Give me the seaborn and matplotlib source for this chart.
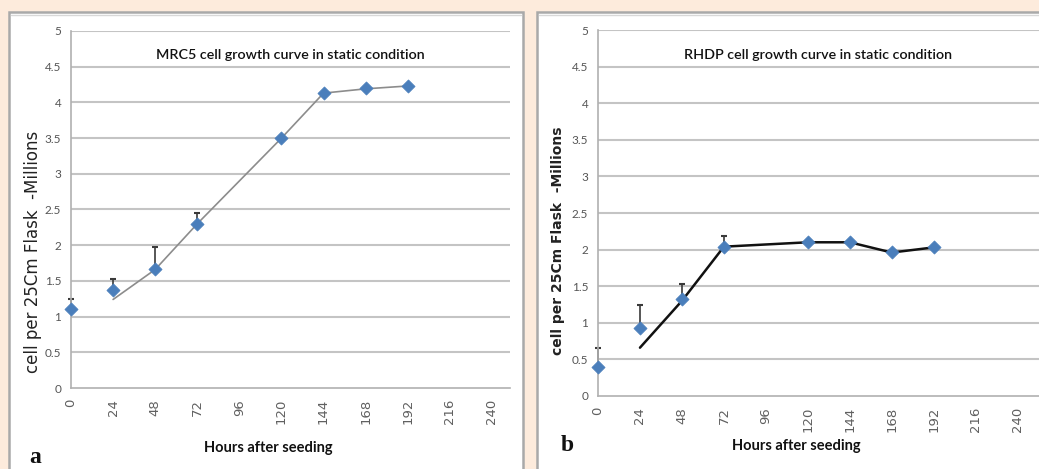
import matplotlib

matplotlib.use("Agg")
import matplotlib.pyplot as plt
import seaborn as sns
import pandas as pd
import numpy as np
from matplotlib.patches import Rectangle

# data
hours = [0, 24, 48, 72, 120, 144, 168, 192]
mrc5_mean = [1.10, 1.37, 1.67, 2.30, 3.50, 4.13, 4.20, 4.23]
mrc5_upper = [1.25, 1.53, 1.97, 2.45, 3.50, 4.13, 4.20, 4.23]
mrc5_line_x = [24, 36, 48, 72, 120, 144, 168, 192]
mrc5_line_y = [1.24, 1.45, 1.66, 2.30, 3.50, 4.13, 4.19, 4.23]

rhdp_mean = [0.40, 0.93, 1.33, 2.03, 2.10, 2.10, 1.97, 2.03]
rhdp_upper = [0.66, 1.24, 1.53, 2.19, 2.10, 2.10, 1.97, 2.03]
rhdp_line_x = [24, 48, 72, 120, 144, 168, 192]
rhdp_line_y = [0.66, 1.30, 2.04, 2.10, 2.10, 1.96, 2.03]

xticks = list(range(0, 241, 24))
yticks = [0, 0.5, 1, 1.5, 2, 2.5, 3, 3.5, 4, 4.5, 5]
ytick_labels = ["0", "0.5", "1", "1.5", "2", "2.5", "3", "3.5", "4", "4.5", "5"]

sns.set_style("white")
plt.rcParams["font.family"] = ["Lato", "DejaVu Sans"]

W, H = 1039, 469
fig = plt.figure(figsize=(W / 100, H / 100), dpi=100)
fig.patch.set_facecolor("#fdebdc")

# background axes holding the white chart panels with grey borders
bg = fig.add_axes([0, 0, 1, 1], zorder=-5)
bg.set_xlim(0, W)
bg.set_ylim(H, 0)
bg.axis("off")
for x0, x1 in [(9, 523), (537, 1045)]:
    bg.add_patch(Rectangle((x0, 12), x1 - x0, H, facecolor="white",
                           edgecolor="#a9a9a9", linewidth=1.8))
    bg.plot([x0 + 2, x1 - 2], [15, 15], color="#d8d8d8", lw=1)

panels = [
    dict(rect=[71 / W, 1 - 388 / H, (510 - 71) / W, (388 - 31) / H], xmax=250.3,
         mean=mrc5_mean, upper=mrc5_upper, lx=mrc5_line_x, ly=mrc5_line_y,
         lcolor="#8c8c8c", lw=1.2, title="MRC5 cell growth curve in static condition",
         tx=125, ylab_weight="normal", ylab_size=12, ylab_xy=(33, 252), letter="a",
         letter_xy=(35, 457), xlab_xy=(268, 448)),
    dict(rect=[598 / W, 1 - 396 / H, (1039 - 598) / W, (396 - 30) / H], xmax=252.2,
         mean=rhdp_mean, upper=rhdp_upper, lx=rhdp_line_x, ly=rhdp_line_y,
         lcolor="#111111", lw=1.8, title="RHDP cell growth curve in static condition",
         tx=126, ylab_weight="bold", ylab_size=10, ylab_xy=(558, 241), letter="b",
         letter_xy=(567, 445), xlab_xy=(796, 446)),
]

for p in panels:
    ax = fig.add_axes(p["rect"], zorder=2)
    ax.set_facecolor("none")
    df = pd.DataFrame({"hours": hours, "mean": p["mean"], "upper": p["upper"]})
    line_df = pd.DataFrame({"hours": p["lx"], "value": p["ly"]})

    for y in yticks[1:]:
        ax.axhline(y, color="#c4c4c4", lw=1.5, zorder=0)

    err = np.array(p["upper"]) - np.array(p["mean"])
    mask = err > 0
    eb = ax.errorbar(df["hours"][mask], df["mean"][mask],
                     yerr=[np.zeros(mask.sum()), err[mask]], fmt="none",
                     ecolor="#3a3a3a", elinewidth=1.2, capsize=2.5, capthick=1.5,
                     zorder=2)
    for art in eb.lines[1] + eb.lines[2]:
        art.set_clip_on(False)

    sns.lineplot(data=line_df, x="hours", y="value", ax=ax, color=p["lcolor"],
                 lw=p["lw"], zorder=3)
    sns.scatterplot(data=df, x="hours", y="mean", ax=ax, marker="D", s=45,
                    color="#4a7ebb", edgecolor="#4a7ebb", linewidth=0.5, zorder=4,
                    clip_on=False)

    ax.set_xlim(0, p["xmax"])
    ax.set_ylim(0, 5)
    ax.set_xticks(xticks)
    ax.set_xticklabels([str(t) for t in xticks], rotation=90, fontsize=9.5,
                       color="#606060", family="DejaVu Sans")
    ax.set_yticks(yticks)
    ax.set_yticklabels(ytick_labels, fontsize=8.5, color="#555555")
    ax.tick_params(axis="both", direction="out", length=4, width=1,
                   color="#b0b0b0", pad=3)
    ax.tick_params(axis="x", pad=4)
    for side in ["top", "right"]:
        ax.spines[side].set_visible(False)
    for side in ["left", "bottom"]:
        ax.spines[side].set_color("#b0b0b0")
        ax.spines[side].set_linewidth(1.2)
    ax.set_xlabel("")
    ax.set_ylabel("")

    ax.text(p["tx"], 4.66, p["title"], ha="center", va="center", fontsize=10.3,
            fontweight="semibold", color="#111111")

    fig.text(p["ylab_xy"][0] / W, 1 - p["ylab_xy"][1] / H,
             "cell per 25Cm Flask  -Millions", rotation=90, ha="center", va="center",
             fontsize=p["ylab_size"], fontweight=p["ylab_weight"], color="#222222",
             family="DejaVu Sans")
    fig.text(p["xlab_xy"][0] / W, 1 - p["xlab_xy"][1] / H,
             "Hours after seeding", ha="center", va="center", fontsize=10.5,
             fontweight="bold", color="#111111")
    fig.text(p["letter_xy"][0] / W, 1 - p["letter_xy"][1] / H, p["letter"],
             ha="center", va="center", fontsize=17, fontweight="bold",
             family="Liberation Serif", color="#111111")

fig.savefig("out.png", dpi=100, facecolor=fig.get_facecolor())
